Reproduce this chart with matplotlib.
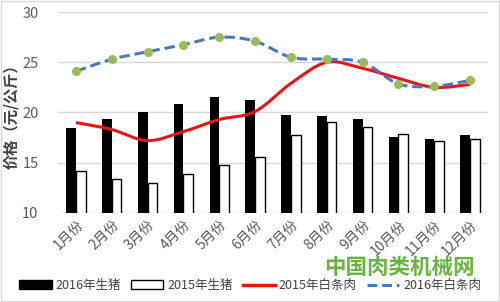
import numpy as np
import matplotlib.pyplot as plt
from matplotlib.path import Path
from matplotlib.patches import PathPatch, Patch
from matplotlib.lines import Line2D

plt.rcParams['font.family'] = ['Noto Sans CJK SC', 'DejaVu Sans']

months = ['1月份', '2月份', '3月份', '4月份', '5月份', '6月份',
          '7月份', '8月份', '9月份', '10月份', '11月份', '12月份']
pig_2016 = [18.5, 19.35, 20.0, 20.8, 21.5, 21.2, 19.75, 19.65, 19.4, 17.6, 17.4, 17.8]
pig_2015 = [14.2, 13.4, 13.0, 13.9, 14.8, 15.6, 17.8, 19.1, 18.6, 17.9, 17.2, 17.35]
pork_2015 = [19.0, 18.3, 17.2, 18.1, 19.3, 20.1, 22.9, 25.0, 24.4, 23.4, 22.5, 22.8]
pork_2016 = [24.1, 25.3, 26.05, 26.75, 27.5, 27.1, 25.5, 25.3, 25.0, 22.85, 22.6, 23.2]


def smooth_path(x, y):
    # Catmull-Rom -> cubic bezier, like Excel's smoothed line
    x = np.asarray(x, float)
    y = np.asarray(y, float)
    pts = np.column_stack([x, y])
    verts = [pts[0]]
    codes = [Path.MOVETO]
    n = len(pts)
    for i in range(n - 1):
        p0 = pts[i - 1] if i > 0 else pts[i]
        p1 = pts[i]
        p2 = pts[i + 1]
        p3 = pts[i + 2] if i + 2 < n else pts[i + 1]
        c1 = p1 + (p2 - p0) / 6
        c2 = p2 - (p3 - p1) / 6
        verts += [c1, c2, p2]
        codes += [Path.CURVE4] * 3
    return Path(verts, codes)


fig = plt.figure(figsize=(5, 3.02), dpi=100)
ax = fig.add_axes([0.116, 0.295, 0.86, 0.665])

x = np.arange(len(months))
w = 0.27
ax.bar(x - w / 2, pig_2016, w, color='black', zorder=2)
ax.bar(x + w / 2, pig_2015, w, color='white', edgecolor='black', linewidth=1, zorder=2)

ax.add_patch(PathPatch(smooth_path(x, pork_2015), fill=False, edgecolor='#e81416',
                       linewidth=2.2, zorder=3))
ax.add_patch(PathPatch(smooth_path(x, pork_2016), fill=False, edgecolor='#4a78c0',
                       linewidth=2.2, linestyle=(0, (3.4, 1.6)), zorder=4))
ax.plot(x, pork_2016, 'o', color='#9bbb59', markersize=5.5, zorder=5)

ax.set_ylim(10, 30)
ax.set_xlim(-0.5, 11.5)
ax.set_yticks([10, 15, 20, 25, 30])
ax.yaxis.grid(True, color='#d9d9d9', linewidth=1)
ax.set_axisbelow(True)
for s in ax.spines.values():
    s.set_visible(False)
ax.tick_params(length=0, colors='#595959')
ax.tick_params(axis='y', pad=14, labelsize=10.5)
ax.set_xticks(x)
ax.set_xticklabels(months, rotation=45, ha='right', rotation_mode='anchor', fontsize=10)
ax.set_ylabel('价格（元/公斤）', fontsize=11, color='#404040', fontweight='bold', labelpad=2)

handles = [Patch(facecolor='black', edgecolor='black'),
           Patch(facecolor='white', edgecolor='black'),
           Line2D([], [], color='#e81416', linewidth=2.5),
           Line2D([], [], color='#4a78c0', linewidth=2.2, linestyle=(0, (3.2, 1.6)))]
fig.legend(handles, ['2016年生猪', '2015年生猪', '2015年白条肉', '2016年白条肉'],
           loc='center', bbox_to_anchor=(0.5, 0.055), ncol=4, frameon=False,
           fontsize=9, handlelength=2.6, handletextpad=0.3, columnspacing=0.8,
           labelcolor='#404040')

# watermark
fig.text(0.95, 0.113, '中国肉类机械网', color='#5aab2e', fontsize=15.5,
         fontweight='bold', ha='right', va='center', alpha=0.9)

fig.add_artist(plt.Rectangle((0.002, 0.003), 0.996, 0.994, transform=fig.transFigure,
                             fill=False, edgecolor='#d9d9d9', linewidth=1))

fig.savefig('out.png', dpi=100)
